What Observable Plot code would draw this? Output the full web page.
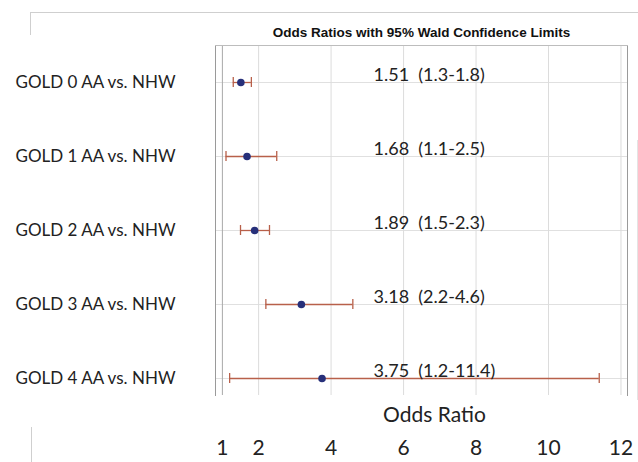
<!DOCTYPE html>
<html>
<head>
<meta charset="utf-8">
<script src="https://cdn.jsdelivr.net/npm/d3@7"></script>
<script src="https://cdn.jsdelivr.net/npm/@observablehq/plot@0.6"></script>
<style>
  html, body { margin: 0; padding: 0; background: #fff; }
  #wrap { position: relative; width: 638px; height: 462px; overflow: hidden; }
  .deco { position: absolute; background: #cfcfcf; }
  svg { white-space: pre; }
</style>
</head>
<body>
<div id="wrap">
  <div class="deco" style="left:30px; top:12px; width:608px; height:1px;"></div>
  <div class="deco" style="left:30px; top:12px; width:1px; height:23px;"></div>
  <div class="deco" style="left:31px; top:427px; width:1px; height:35px;"></div>
  <div class="deco" style="left:637px; top:140px; width:1px; height:260px; background:#e4e4e4;"></div>
  <div id="chart"></div>
</div>
<script>
const categories = ["GOLD 0 AA vs. NHW", "GOLD 1 AA vs. NHW", "GOLD 2 AA vs. NHW", "GOLD 3 AA vs. NHW", "GOLD 4 AA vs. NHW"];
const oddsRatios = [1.51, 1.68, 1.89, 3.18, 3.75];
const lowerCL = [1.3, 1.1, 1.5, 2.2, 1.2];
const upperCL = [1.8, 2.5, 2.3, 4.6, 11.4];
const xTicks = [1, 2, 4, 6, 8, 10, 12];
const gridTicks = [2, 4, 6, 8, 10, 12];
const title = "Odds Ratios with 95% Wald Confidence Limits";
const xLabel = "Odds Ratio";

const data = categories.map((c, i) => ({
  cat: c, or: oddsRatios[i], lo: lowerCL[i], hi: upperCL[i],
  label: `${oddsRatios[i].toFixed(2)}  (${lowerCL[i]}-${upperCL[i]})`
}));

const barColor = "#b8604a";
const dotColor = "#27307a";

const chart = Plot.plot({
  width: 638,
  height: 462,
  marginLeft: 215,
  marginRight: 11,
  marginTop: 45,
  marginBottom: 67,
  style: { fontFamily: "Lato, 'Open Sans', sans-serif", background: "transparent" },
  x: { domain: [0.81, 12.18] },
  y: { type: "point", domain: categories, range: [80, 379], padding: 0 },
  marks: [
    Plot.gridY(categories, { stroke: "#e0e0e0", strokeOpacity: 1 }),
    Plot.gridX(gridTicks, { stroke: "#dcdcdc", strokeOpacity: 1 }),
    Plot.ruleX([1], { stroke: "#a8a8a8" }),
    Plot.frame({ anchor: "left", stroke: "#9a9a9a" }),
    Plot.frame({ anchor: "right", stroke: "#9a9a9a" }),
    Plot.frame({ anchor: "top", stroke: "#bdbdbd" }),
    Plot.axisY({ tickSize: 0, tickPadding: 40, fontSize: 17, fill: "#222", label: null }),
    Plot.axisX(xTicks, { tickSize: 0, tickPadding: 45, fontSize: 21, fill: "#222", label: null }),
    Plot.text([xLabel], { frameAnchor: "bottom", dx: 13, dy: 20, lineAnchor: "middle", fontSize: 21, fill: "#222" }),
    Plot.text([title], { frameAnchor: "top", dy: -13, lineAnchor: "middle", fontSize: 13.5, fontWeight: "bold", fontFamily: "'Liberation Sans', Arial, sans-serif", fill: "#111" }),
    Plot.ruleY(data, { y: "cat", x1: "lo", x2: "hi", stroke: barColor, strokeWidth: 1.3 }),
    Plot.ruleX(data, { x: "lo", y1: "cat", y2: "cat", stroke: barColor, strokeWidth: 1.3, insetTop: -5, insetBottom: -5 }),
    Plot.ruleX(data, { x: "hi", y1: "cat", y2: "cat", stroke: barColor, strokeWidth: 1.3, insetTop: -5, insetBottom: -5 }),
    Plot.dot(data, { x: "or", y: "cat", r: 3.8, fill: dotColor, stroke: "none" }),
    Plot.text(data, { y: "cat", text: "label", frameAnchor: "left", dx: 158, dy: -7, textAnchor: "start", fontSize: 18, fill: "#222" })
  ]
});
document.getElementById("chart").appendChild(chart);
</script>
</body>
</html>
